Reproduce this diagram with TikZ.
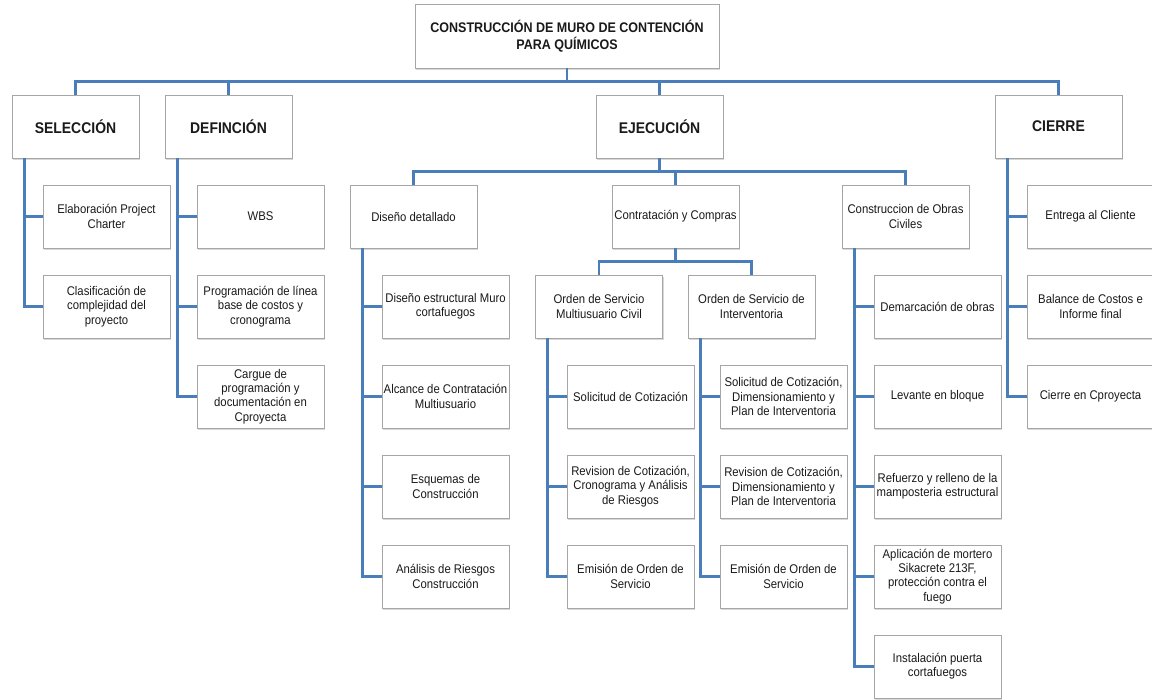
\documentclass[tikz,border=0pt]{standalone}
\usepackage{fontspec}
\setmainfont{Liberation Sans}[FakeStretch=0.9]
\usetikzlibrary{shadows}

\definecolor{linkblue}{HTML}{4A7EBB}
\definecolor{boxgray}{HTML}{A6A6A6}
\definecolor{textgray}{HTML}{1A1A1A}

\tikzset{
  box/.style={
    rectangle,
    draw=boxgray,
    line width=0.8pt,
    fill=white,
    drop shadow={shadow xshift=1.2pt, shadow yshift=-1.6pt, fill=black!30},
    minimum width=127pt,
    minimum height=63pt,
    inner sep=1pt,
    text=textgray,
    text centered,
    align=center,
    font=\fontsize{12.6}{14.2}\selectfont
  },
  phase/.style={
    box,
    font=\fontsize{15.5}{18}\selectfont\bfseries
  },
  top/.style={
    box,
    minimum width=304pt,
    minimum height=64pt,
    font=\fontsize{13.9}{16.8}\selectfont\bfseries
  },
  link/.style={
    draw=linkblue,
    line width=2.8pt
  },
}

\begin{document}
\begin{tikzpicture}[x=1pt, y=-1pt]
  \useasboundingbox (0,0) rectangle (1152,700);
  % root and phases
  \node[top] (root) at (567, 36) {CONSTRUCCIÓN DE MURO DE CONTENCIÓN\\PARA QUÍMICOS};
  \node[phase] (sel) at (75.5, 126.5) {SELECCIÓN};
  \node[phase] (def) at (228.5, 126.5) {DEFINCIÓN};
  \node[phase] (eje) at (659.5, 126.5) {EJECUCIÓN};
  \node[phase] (cie) at (1058.5, 126.5) {CIERRE};
  % seleccion
  \node[box] (sel1) at (106.5, 216.5) {Elaboración Project\\Charter};
  \node[box] (sel2) at (106.5, 306.5) {Clasificación de\\complejidad del\\proyecto};
  % definicion
  \node[box] (def1) at (260.5, 216.5) {WBS};
  \node[box] (def2) at (260.5, 306.5) {Programación de línea\\base de costos y\\cronograma};
  \node[box] (def3) at (260.5, 396.5) {Cargue de\\programación y\\documentación en\\Cproyecta};
  % ejecucion
  \node[box] (dis) at (413.5, 216.5) {Diseño detallado};
  \node[box] (con) at (675.5, 216.5) {Contratación y Compras};
  \node[box] (obr) at (905.5, 216.5) {Construccion de Obras\\Civiles};
  \node[box] (dis1) at (445.5, 306.5) {Diseño estructural Muro\\cortafuegos};
  \node[box] (dis2) at (445.5, 396.5) {Alcance de Contratación\\Multiusuario};
  \node[box] (dis3) at (445.5, 486.5) {Esquemas de\\Construcción};
  \node[box] (dis4) at (445.5, 576.5) {Análisis de Riesgos\\Construcción};
  \node[box] (osm) at (599, 306.5) {Orden de Servicio\\Multiusuario Civil};
  \node[box] (osi) at (751.5, 306.5) {Orden de Servicio de\\Interventoria};
  \node[box] (osm1) at (630.5, 396.5) {Solicitud de Cotización};
  \node[box] (osm2) at (630.5, 486.5) {Revision de Cotización,\\Cronograma y Análisis\\de Riesgos};
  \node[box] (osm3) at (630.5, 576.5) {Emisión de Orden de\\Servicio};
  \node[box] (osi1) at (783.5, 396.5) {Solicitud de Cotización,\\Dimensionamiento y\\Plan de Interventoria};
  \node[box] (osi2) at (783.5, 486.5) {Revision de Cotización,\\Dimensionamiento y\\Plan de Interventoria};
  \node[box] (osi3) at (783.5, 576.5) {Emisión de Orden de\\Servicio};
  \node[box] (obr1) at (937.5, 306.5) {Demarcación de obras};
  \node[box] (obr2) at (937.5, 396.5) {Levante en bloque};
  \node[box] (obr3) at (937.5, 486.5) {Refuerzo y relleno de la\\mamposteria estructural};
  \node[box] (obr4) at (937.5, 576.5) {Aplicación de mortero\\Sikacrete 213F,\\protección contra el\\fuego};
  \node[box] (obr5) at (937.5, 666.5) {Instalación puerta\\cortafuegos};
  % cierre
  \node[box] (cie1) at (1090.5, 216.5) {Entrega al Cliente};
  \node[box] (cie2) at (1090.5, 306.5) {Balance de Costos e\\Informe final};
  \node[box] (cie3) at (1090.5, 396.5) {Cierre en Cproyecta};

  % connectors
  \draw[link] (root.south) -- ++(0,13.5) -| (sel.north);
  \draw[link] (root.south) -- ++(0,13.5) -| (def.north);
  \draw[link] (root.south) -- ++(0,13.5) -| (eje.north);
  \draw[link] (root.south) -- ++(0,13.5) -| (cie.north);
  \draw[link] (eje.south) -- ++(0,13.5) -| (dis.north);
  \draw[link] (eje.south) -- ++(0,13.5) -| (con.north);
  \draw[link] (eje.south) -- ++(0,13.5) -| (obr.north);
  \draw[link] (con.south) -- ++(0,13.5) -| (osm.north);
  \draw[link] (con.south) -- ++(0,13.5) -| (osi.north);
  \draw[link] ([xshift=12.5pt]sel.south west) |- (sel1.west);
  \draw[link] ([xshift=12.5pt]sel.south west) |- (sel2.west);
  \draw[link] ([xshift=12.5pt]def.south west) |- (def1.west);
  \draw[link] ([xshift=12.5pt]def.south west) |- (def2.west);
  \draw[link] ([xshift=12.5pt]def.south west) |- (def3.west);
  \draw[link] ([xshift=12.5pt]dis.south west) |- (dis1.west);
  \draw[link] ([xshift=12.5pt]dis.south west) |- (dis2.west);
  \draw[link] ([xshift=12.5pt]dis.south west) |- (dis3.west);
  \draw[link] ([xshift=12.5pt]dis.south west) |- (dis4.west);
  \draw[link] ([xshift=12.5pt]osm.south west) |- (osm1.west);
  \draw[link] ([xshift=12.5pt]osm.south west) |- (osm2.west);
  \draw[link] ([xshift=12.5pt]osm.south west) |- (osm3.west);
  \draw[link] ([xshift=12.5pt]osi.south west) |- (osi1.west);
  \draw[link] ([xshift=12.5pt]osi.south west) |- (osi2.west);
  \draw[link] ([xshift=12.5pt]osi.south west) |- (osi3.west);
  \draw[link] ([xshift=12.5pt]obr.south west) |- (obr1.west);
  \draw[link] ([xshift=12.5pt]obr.south west) |- (obr2.west);
  \draw[link] ([xshift=12.5pt]obr.south west) |- (obr3.west);
  \draw[link] ([xshift=12.5pt]obr.south west) |- (obr4.west);
  \draw[link] ([xshift=12.5pt]obr.south west) |- (obr5.west);
  \draw[link] ([xshift=12.5pt]cie.south west) |- (cie1.west);
  \draw[link] ([xshift=12.5pt]cie.south west) |- (cie2.west);
  \draw[link] ([xshift=12.5pt]cie.south west) |- (cie3.west);
\end{tikzpicture}
\end{document}
